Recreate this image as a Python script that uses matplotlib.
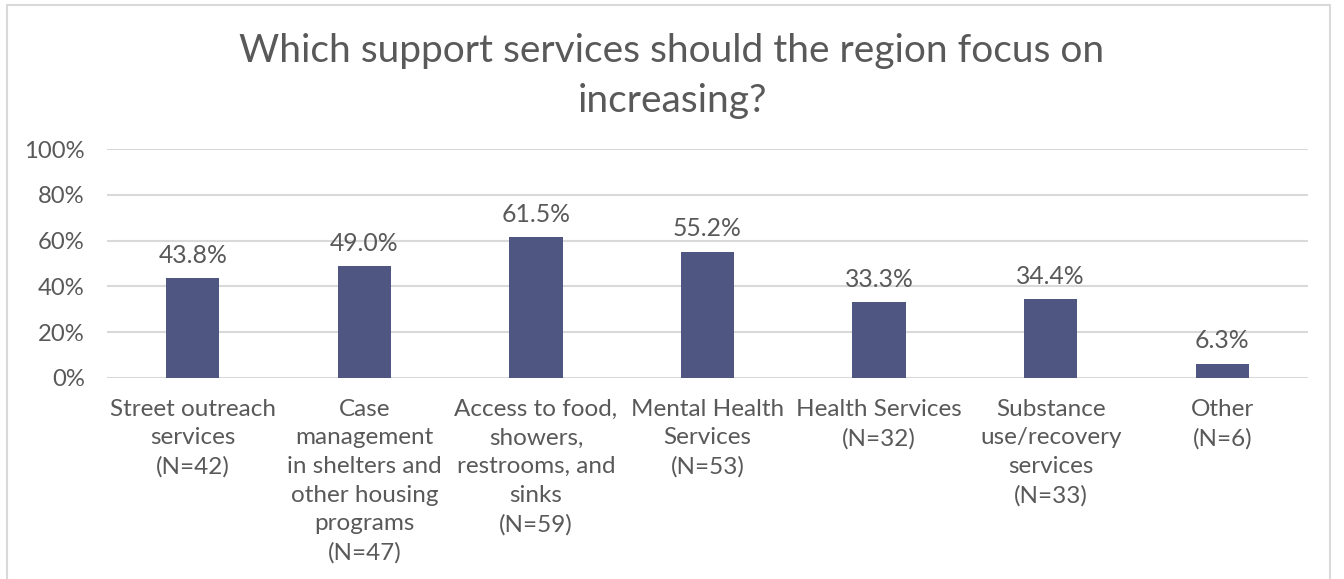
import matplotlib
matplotlib.use("Agg")
import matplotlib.pyplot as plt
from matplotlib.patches import Rectangle
from matplotlib.ticker import FuncFormatter

categories = [
    "Street outreach\nservices\n(N=42)",
    "Case\nmanagement\nin shelters and\nother housing\nprograms\n(N=47)",
    "Access to food,\nshowers,\nrestrooms, and\nsinks\n(N=59)",
    "Mental Health\nServices\n(N=53)",
    "Health Services\n(N=32)",
    "Substance\nuse/recovery\nservices\n(N=33)",
    "Other\n(N=6)",
]
values = [43.8, 49.0, 61.5, 55.2, 33.3, 34.4, 6.3]
yticks = [0, 20, 40, 60, 80, 100]
title = "Which support services should the region focus on\nincreasing?"

W, H = 1344, 579
fig = plt.figure(figsize=(W / 100, H / 100), dpi=100)
plt.rcParams['font.family'] = ['Lato', 'DejaVu Sans']
text_color = "#595959"
bar_color = "#4F5682"
grid_color = "#D9D9D9"

# plot area in pixels
x0, x1 = 107, 1308
y0, y1 = 378, 149
ax = fig.add_axes([x0 / W, 1 - y0 / H, (x1 - x0) / W, (y0 - y1) / H])

xs = list(range(len(categories)))
ax.bar(xs, values, width=0.31, color=bar_color, zorder=3)
ax.set_xlim(-0.5, len(categories) - 0.5)
ax.set_ylim(0, 100)
ax.set_yticks(yticks)
ax.yaxis.set_major_formatter(FuncFormatter(lambda v, p: f"{v:.0f}%"))
ax.grid(axis='y', color=grid_color, linewidth=1.5, zorder=0)
for s in ax.spines.values():
    s.set_visible(False)
ax.tick_params(axis='both', length=0, labelsize=17.2, colors=text_color)
ax.tick_params(axis='y', pad=16)
ax.set_xticks(xs)
ax.set_xticklabels(categories, linespacing=1.45, fontsize=17.5)
ax.tick_params(axis='x', pad=15)

for x, v in zip(xs, values):
    ax.annotate(f"{v:.1f}%", (x, v), xytext=(0, 8), textcoords='offset points',
                ha='center', va='bottom', fontsize=17.8, color=text_color)

fig.text(0.5, 1 - 76 / H, title, ha='center', va='center', fontsize=28,
         color=text_color, linespacing=1.46)

fig.patches.append(Rectangle((7 / W, -0.05), (1330 - 7) / W, 1 - 5 / H + 0.05,
                             transform=fig.transFigure, fill=False,
                             edgecolor="#D9D9D9", linewidth=1.5))

fig.savefig("out.png", dpi=100, facecolor="white")
